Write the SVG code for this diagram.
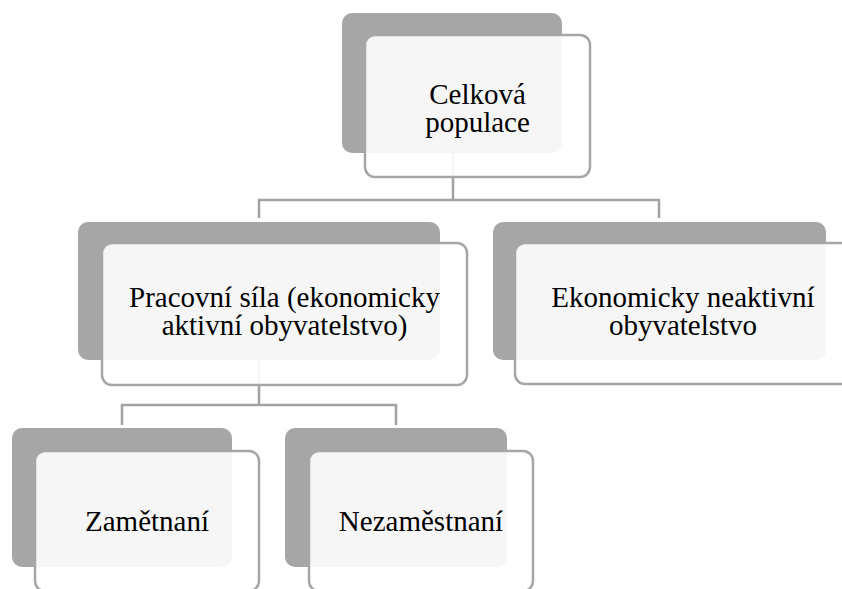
<svg xmlns="http://www.w3.org/2000/svg" width="842" height="589" viewBox="0 0 842 589">
<style>
.back{fill:#a6a6a6;}
.front{fill:#ffffff;fill-opacity:0.9;stroke:#a6a6a6;stroke-width:2.5;}
.conn{fill:none;stroke:#a2a2a2;stroke-width:2.5;}
.t{font-family:"Liberation Serif","Times New Roman",serif;font-size:29px;fill:#000;text-anchor:middle;}
</style>
<rect width="842" height="589" fill="#ffffff"/>
<g id="connectors">
<path class="conn" d="M453,153 V200 M259,218 V200 H659 V218"/>
<path class="conn" d="M259,360 V405 M122,425 V405 H396 V425"/>
</g>
<g id="node-celkova">
<rect class="back" x="342" y="13" width="220" height="140" rx="10"/>
<rect class="front" x="365" y="35" width="225" height="142" rx="10"/>
<text class="t" x="477.5" y="104">Celková<tspan x="477.5" dy="28">populace</tspan></text>
</g>
<g id="node-pracovni">
<rect class="back" x="78" y="222" width="362" height="138" rx="10"/>
<rect class="front" x="102" y="243" width="365" height="142" rx="10"/>
<text class="t" x="284.5" y="307">Pracovní síla (ekonomicky<tspan x="284.5" dy="28">aktivní obyvatelstvo)</tspan></text>
</g>
<g id="node-neaktivni">
<rect class="back" x="493" y="222" width="333" height="138" rx="10"/>
<rect class="front" x="515" y="243" width="336" height="141" rx="10"/>
<text class="t" x="683" y="307">Ekonomicky neaktivní<tspan x="683" dy="28">obyvatelstvo</tspan></text>
</g>
<g id="node-zamestnani">
<rect class="back" x="12" y="428" width="220" height="139" rx="10"/>
<rect class="front" x="35" y="451" width="224" height="140" rx="10"/>
<text class="t" x="147" y="531">Zamětnaní</text>
</g>
<g id="node-nezamestnani">
<rect class="back" x="285" y="428" width="222" height="139" rx="10"/>
<rect class="front" x="309" y="451" width="224" height="140" rx="10"/>
<text class="t" x="421" y="531">Nezaměstnaní</text>
</g>
</svg>
